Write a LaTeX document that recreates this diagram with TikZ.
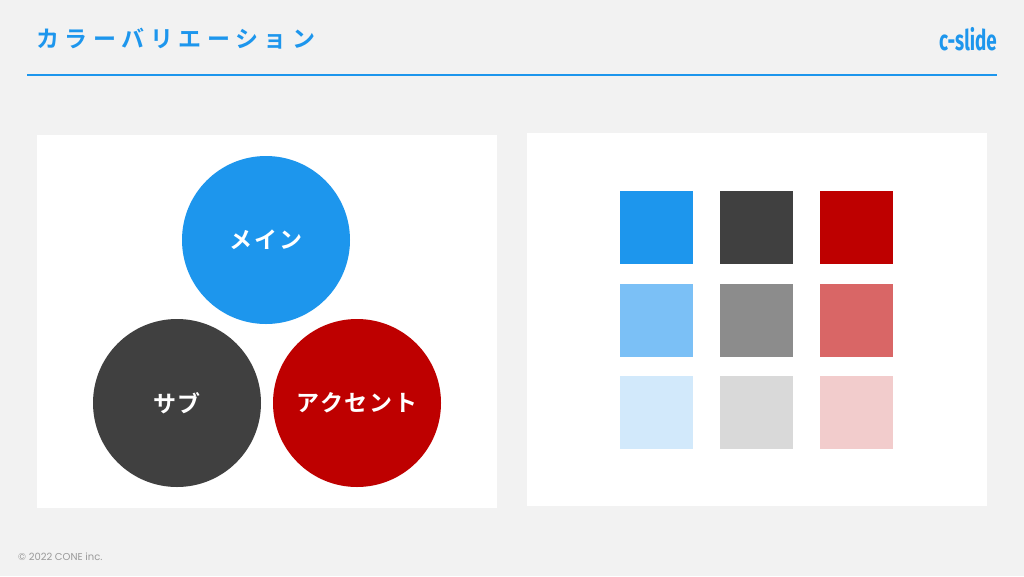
\documentclass[tikz,border=0pt]{standalone}
\usepackage{fontspec}
\setmainfont{Noto Sans CJK JP}
\newfontfamily\jpbold[LetterSpace=24]{Noto Sans CJK JP Bold}
\newfontfamily\jpcirc[LetterSpace=8]{Noto Sans CJK JP Bold}
\newfontfamily\logofont[FakeStretch=0.66]{Fira Sans Bold}
\newfontfamily\footfont{Poppins}
\definecolor{bg}{HTML}{F2F2F2}
\definecolor{mainc}{HTML}{1D96ED}
\definecolor{subc}{HTML}{404040}
\definecolor{accc}{HTML}{BE0000}
\definecolor{main2}{HTML}{7BC0F6}
\definecolor{sub2}{HTML}{8C8C8C}
\definecolor{acc2}{HTML}{D96666}
\definecolor{main3}{HTML}{D2E9FB}
\definecolor{sub3}{HTML}{D9D9D9}
\definecolor{acc3}{HTML}{F2CCCC}
\definecolor{footc}{HTML}{9A9A9A}
\begin{document}
\begin{tikzpicture}[x=1pt,y=-1pt,
  panel/.style={fill=white,draw=none},
  colcircle/.style={circle,minimum size=168pt,inner sep=0pt,text=white,font=\jpcirc\fontsize{23}{23}\selectfont},
  swatch/.style={minimum size=73pt,inner sep=0pt,draw=none,anchor=north west}]
\fill[bg] (0,0) rectangle (1024,576);
\useasboundingbox (0,0) rectangle (1024,576);
% header
\node[anchor=west,inner sep=0pt,text=mainc,font=\jpbold\fontsize{23}{23}\selectfont] (title) at (36,39) {カラーバリエーション};
\node[anchor=base east,inner sep=0pt,text=mainc,font=\logofont\fontsize{28.5}{28.5}\selectfont] (logo) at (997,50) {c-slide};
\coordinate (hl) at (27,74.5);
\coordinate (hr) at (997,74.5);
\draw[mainc,line width=2pt] (hl) -- (hr);
% panels
\node[panel,anchor=north west,minimum width=460pt,minimum height=373pt,inner sep=0pt] (lp) at (37,135) {};
\node[panel,anchor=north west,minimum width=460pt,minimum height=373pt,inner sep=0pt] (rp) at (527,133) {};
% circles
\node[colcircle,fill=mainc] (cmain) at (266,240) {メイン};
\node[colcircle,fill=subc] (csub) at (177,403) {サブ};
\node[colcircle,fill=accc] (cacc) at (357,403) {アクセント};
% swatches
\node[swatch,fill=mainc] (s11) at (620,191) {};
\node[swatch,fill=subc] (s12) at (720,191) {};
\node[swatch,fill=accc] (s13) at (820,191) {};
\node[swatch,fill=main2] (s21) at (620,284) {};
\node[swatch,fill=sub2] (s22) at (720,284) {};
\node[swatch,fill=acc2] (s23) at (820,284) {};
\node[swatch,fill=main3] (s31) at (620,376) {};
\node[swatch,fill=sub3] (s32) at (720,376) {};
\node[swatch,fill=acc3] (s33) at (820,376) {};
% footer
\node[anchor=west,inner sep=0pt,text=footc,font=\footfont\fontsize{10}{10}\selectfont] (foot) at (18,557) {© 2022 CONE inc.};
\end{tikzpicture}
\end{document}
